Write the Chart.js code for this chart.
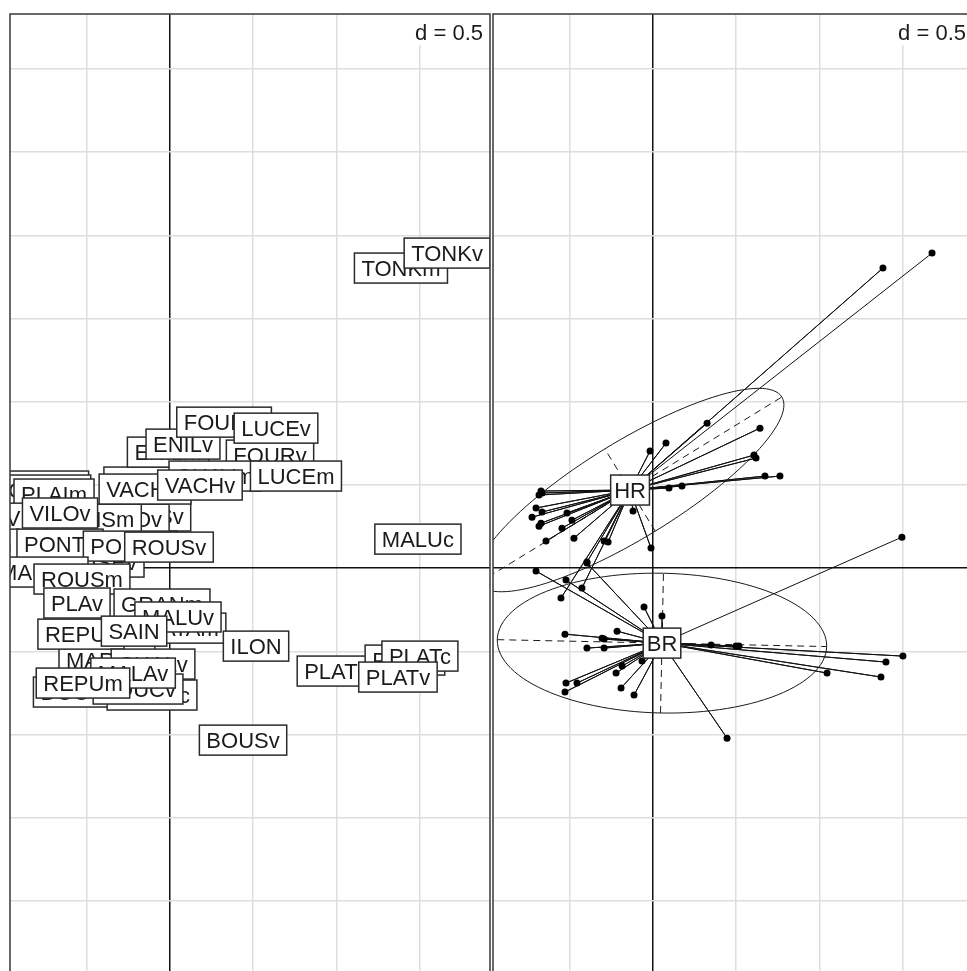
<!DOCTYPE html>
<html lang="es">
<head>
<meta charset="utf-8">
<title>s.label / s.class</title>
<script src="https://cdn.jsdelivr.net/npm/chart.js@4.4.1/dist/chart.umd.min.js"></script>
<style>
    html, body { margin: 0; padding: 0; background: #fff; overflow: hidden; }
    canvas { position: absolute; top: 0; }
    #panelIzq { left: 0; }
    #panelDer { left: 483px; }
</style>
</head>
<body>
<canvas id="panelIzq" width="500" height="1030"></canvas>
<canvas id="panelDer" width="500" height="1030"></canvas>
<script>

/*
=====================================
DATOS
=====================================
*/

// panel izquierdo: etiquetas de las variables (orden de dibujo)
const etiquetas = [
    'GOUAm', 'GOUAv', 'PLAIm', 'VILOm', 'GENSv', 'PALOv', 'GENSm', 'BREVm', 'VACHm',
    'ENILm', 'ENILv', 'FOURm', 'FOURv', 'LUCEv', 'CHAVm', 'VACHv', 'LUCEm', 'VILOv',
    'VIEUm', 'CUSEv', 'PONTv', 'PONTm', 'ROUSv', 'MAUVm', 'ROUSm', 'PLAv', 'GRANm',
    'RATAm', 'MALUv', 'ILON', 'MARAm', 'REPUv', 'SAIN', 'CHALv', 'DOUCm', 'DOUCc',
    'DOUCv', 'MALAv', 'REPUm', 'TONKm', 'TONKv', 'MALUc', 'BOUSv', 'PLATm', 'PLATb',
    'PLATc', 'PLATv'
];

const coordX = [
    -0.781, -0.745, -0.697, -0.781, -0.138, -0.252, -0.457, -0.120, -0.150,
    -0.012, 0.078, 0.325, 0.601, 0.637, 0.270, 0.180, 0.757, -0.661,
    -1.160, -0.415, -0.661, -0.240, -0.006, -0.781, -0.529, -0.559, -0.048,
    0.072, 0.048, 0.517, -0.379, -0.535, -0.216, -0.102, -0.529, -0.108,
    -0.192, -0.222, -0.523, 1.388, 1.665, 1.490, 0.439, 1.022, 1.412,
    1.502, 1.370
];

const coordY = [
    0.493, 0.469, 0.445, 0.300, 0.313, 0.294, 0.294, 0.517, 0.475,
    0.697, 0.745, 0.877, 0.679, 0.841, 0.553, 0.499, 0.553, 0.331,
    0.144, 0.036, 0.144, 0.132, 0.126, -0.024, -0.066, -0.210, -0.216,
    -0.361, -0.294, -0.469, -0.553, -0.397, -0.379, -0.577, -0.745, -0.763,
    -0.727, -0.631, -0.691, 1.803, 1.893, 0.174, -1.034, -0.619, -0.553,
    -0.529, -0.655
];

// panel derecho: grupos, centros y elipses
const grupos = ['HR', 'BR'];
const centroX = [-0.138, 0.054];
const centroY = [0.469, -0.451];
const elipseA = [1.07, 0.99];
const elipseB = [0.29, 0.42];
const elipseAngulo = [31.5, -1.2];

// individuos de cada grupo
const hrX = [
    0.325, 0.643, 0.078, -0.018, 0.607, 0.619, 0.673, 0.763, 0.096, 0.174,
    -0.673, -0.685, -0.667, -0.703, -0.667, -0.727, -0.517, -0.487, -0.673, -0.685,
    -0.547, -0.643, -0.475, -0.120, -0.294, -0.270, -0.012, -0.397, -0.427, -0.553,
    1.382, 1.677
];
const hrY = [
    0.871, 0.841, 0.751, 0.703, 0.679, 0.661, 0.553, 0.553, 0.481, 0.493,
    0.463, 0.439, 0.451, 0.361, 0.337, 0.306, 0.331, 0.288, 0.270, 0.252,
    0.240, 0.162, 0.180, 0.343, 0.162, 0.156, 0.120, 0.036, -0.120, -0.180,
    1.803, 1.893
];

const brX = [
    -0.703, -0.523, -0.397, -0.054, 0.054, -0.216, -0.529, -0.306, -0.294, -0.397,
    -0.294, -0.066, -0.186, -0.222, -0.457, -0.523, -0.529, -0.192, -0.114, 0.445,
    0.349, 0.499, 0.517, 1.046, 1.370, 1.400, 1.502, 1.496
];
const brY = [
    -0.018, -0.072, 0.030, -0.234, -0.288, -0.379, -0.397, -0.421, -0.427, -0.481,
    -0.481, -0.559, -0.589, -0.631, -0.691, -0.691, -0.745, -0.721, -0.763, -1.022,
    -0.463, -0.469, -0.469, -0.631, -0.655, -0.565, -0.529, 0.186
];

const limitesX = [-0.9616, 1.9232];
const limitesY = [-2.68, 3.33];
const paso = 0.5;
const textoPaso = 'd = 0.5';

/*
=====================================
UTILIDADES
=====================================
*/

const FUENTE = "22px 'Liberation Sans', Arial, sans-serif";

function caja(ctx, texto, px, py, margen) {
    const ancho = ctx.measureText(texto).width + margen * 2;
    const alto = 30;
    ctx.fillStyle = '#ffffff';
    ctx.fillRect(px - ancho / 2, py - alto / 2, ancho, alto);
    ctx.strokeStyle = '#2b2b2b';
    ctx.lineWidth = 1.5;
    ctx.strokeRect(px - ancho / 2, py - alto / 2, ancho, alto);
    ctx.fillStyle = '#1b1b1b';
    ctx.textAlign = 'center';
    ctx.textBaseline = 'alphabetic';
    ctx.fillText(texto, px, py + 8);
}

function recortar(ctx, area) {
    ctx.beginPath();
    ctx.rect(area.left, area.top, area.right - area.left, area.bottom - area.top);
    ctx.clip();
}

const colorRejilla = (c) => (c.tick && Math.abs(c.tick.value) < 1e-9) ? '#111111' : '#dedede';

function escalas() {
    const eje = (lim) => ({
        type: 'linear',
        min: lim[0],
        max: lim[1],
        ticks: { display: false, stepSize: paso, includeBounds: false },
        grid: { color: colorRejilla, lineWidth: 1.5, drawTicks: false },
        border: { display: false }
    });
    return { x: eje(limitesX), y: eje(limitesY) };
}

// marco del panel y leyenda de la rejilla
const pluginMarco = {
    id: 'marco',
    afterDraw(chart) {
        const { ctx, chartArea } = chart;
        ctx.save();
        ctx.font = FUENTE;
        const ancho = ctx.measureText(textoPaso).width;
        ctx.fillStyle = '#ffffff';
        ctx.fillRect(chartArea.right - ancho - 10, chartArea.top, ancho + 10, 31);
        ctx.fillStyle = '#1b1b1b';
        ctx.textAlign = 'right';
        ctx.textBaseline = 'alphabetic';
        ctx.fillText(textoPaso, chartArea.right - 7, chartArea.top + 26);
        ctx.strokeStyle = '#444444';
        ctx.lineWidth = 1.6;
        ctx.strokeRect(chartArea.left, chartArea.top, chartArea.right - chartArea.left, chartArea.bottom - chartArea.top);
        ctx.restore();
    }
};

const opcionesComunes = {
    responsive: false,
    animation: false,
    layout: { autoPadding: false, padding: { left: 10, right: 10, top: 14, bottom: 16 } },
    plugins: { legend: { display: false }, tooltip: { enabled: false } },
    events: []
};

document.addEventListener('DOMContentLoaded', () => {

    /*
    =====================================
    PANEL IZQUIERDO (s.label)
    =====================================
    */

    const pluginEtiquetas = {
        id: 'etiquetas',
        afterDatasetsDraw(chart) {
            const { ctx, chartArea } = chart;
            const puntos = chart.getDatasetMeta(0).data;
            ctx.save();
            recortar(ctx, chartArea);
            ctx.font = FUENTE;
            puntos.forEach((p, i) => caja(ctx, etiquetas[i], p.x, p.y, 7));
            ctx.restore();
        }
    };

    new Chart(document.getElementById('panelIzq'), {
        type: 'scatter',
        data: {
            datasets: [{
                data: coordX.map((x, i) => ({ x: x, y: coordY[i] })),
                pointRadius: 0
            }]
        },
        options: { ...opcionesComunes, scales: escalas() },
        plugins: [pluginEtiquetas, pluginMarco]
    });

    /*
    =====================================
    PANEL DERECHO (s.class)
    =====================================
    */

    const estrella = (g, xs, ys) => {
        const datos = [];
        xs.forEach((x, i) => {
            datos.push({ x: centroX[g], y: centroY[g] });
            datos.push({ x: x, y: ys[i] });
        });
        return datos;
    };

    const pluginElipses = {
        id: 'elipses',
        beforeDatasetsDraw(chart) {
            const { ctx, chartArea, scales } = chart;
            const aPx = (x, y) => [scales.x.getPixelForValue(x), scales.y.getPixelForValue(y)];
            ctx.save();
            recortar(ctx, chartArea);
            ctx.strokeStyle = '#1a1a1a';
            ctx.lineWidth = 1;
            grupos.forEach((g, k) => {
                const t = elipseAngulo[k] * Math.PI / 180;
                const u = [Math.cos(t), Math.sin(t)];
                const v = [-Math.sin(t), Math.cos(t)];
                const cx = centroX[k], cy = centroY[k];
                const a = elipseA[k], b = elipseB[k];
                ctx.setLineDash([]);
                ctx.beginPath();
                for (let s = 0; s <= 120; s++) {
                    const w = s / 120 * 2 * Math.PI;
                    const [px, py] = aPx(cx + a * Math.cos(w) * u[0] + b * Math.sin(w) * v[0],
                                         cy + a * Math.cos(w) * u[1] + b * Math.sin(w) * v[1]);
                    if (s === 0) ctx.moveTo(px, py); else ctx.lineTo(px, py);
                }
                ctx.stroke();
                ctx.setLineDash([7, 5]);
                [[a, u], [b, v]].forEach(([r, d]) => {
                    const [x1, y1] = aPx(cx - r * d[0], cy - r * d[1]);
                    const [x2, y2] = aPx(cx + r * d[0], cy + r * d[1]);
                    ctx.beginPath();
                    ctx.moveTo(x1, y1);
                    ctx.lineTo(x2, y2);
                    ctx.stroke();
                });
            });
            ctx.restore();
        },
        afterDatasetsDraw(chart) {
            const { ctx, chartArea } = chart;
            ctx.save();
            recortar(ctx, chartArea);
            ctx.font = FUENTE;
            grupos.forEach((g, k) => {
                const c = chart.getDatasetMeta(k).data[0];
                caja(ctx, g, c.x, c.y, 3.5);
            });
            ctx.restore();
        }
    };

    const serie = (g, xs, ys) => ({
        label: grupos[g],
        data: estrella(g, xs, ys),
        showLine: true,
        borderColor: '#111111',
        borderWidth: 1,
        pointRadius: (c) => c.dataIndex % 2 ? 3.5 : 0,
        pointBackgroundColor: '#000000',
        pointBorderWidth: 0
    });

    new Chart(document.getElementById('panelDer'), {
        type: 'scatter',
        data: {
            datasets: [serie(0, hrX, hrY), serie(1, brX, brY)]
        },
        options: { ...opcionesComunes, scales: escalas() },
        plugins: [pluginElipses, pluginMarco]
    });

});
</script>
</body>
</html>
